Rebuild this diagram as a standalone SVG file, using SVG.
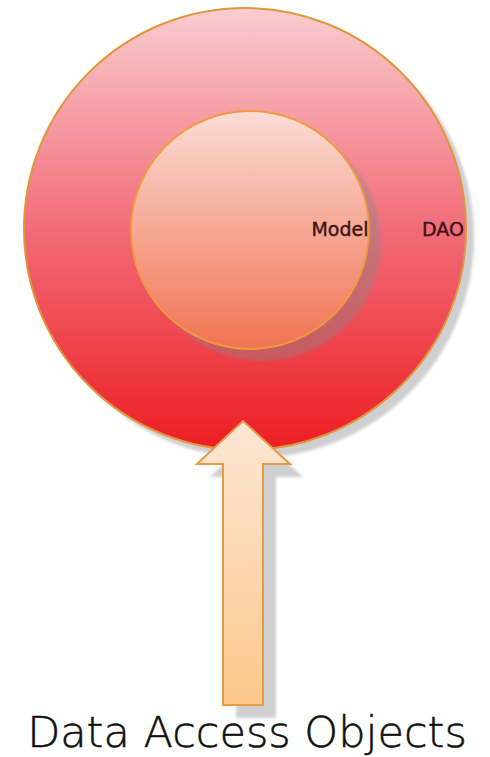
<svg xmlns="http://www.w3.org/2000/svg" width="490" height="757" viewBox="0 0 490 757">
<defs>
<linearGradient id="gOuter" x1="0" y1="0" x2="0" y2="1">
<stop offset="0" stop-color="#f9cdd0"/>
<stop offset="0.5" stop-color="#f26c78"/>
<stop offset="1" stop-color="#ec1e22"/>
</linearGradient>
<linearGradient id="gInner" x1="0" y1="0" x2="0" y2="1">
<stop offset="0" stop-color="#fbdcd6"/>
<stop offset="1" stop-color="#f07452"/>
</linearGradient>
<linearGradient id="gArrow" x1="0" y1="0" x2="0" y2="1">
<stop offset="0" stop-color="#fde6d6"/>
<stop offset="1" stop-color="#fbc88a"/>
</linearGradient>
<filter id="blur" x="-10%" y="-10%" width="120%" height="120%"><feGaussianBlur stdDeviation="1.5"/></filter>
</defs>
<style>
.shadow{fill:#888;opacity:0.4;filter:url(#blur)}
.lbl{font-family:"DejaVu Sans",Verdana,sans-serif;font-size:19px;fill:#3a1414;stroke:#3a1414;stroke-width:0.4;text-anchor:middle}
.title{font-family:"DejaVu Sans",Verdana,sans-serif;font-size:43px;fill:#111;text-anchor:middle;font-weight:300;stroke:#111;stroke-width:0.5}
</style>
<g id="dao">
<circle class="shadow" cx="253" cy="237" r="221"/>
<circle cx="245" cy="229" r="221" fill="url(#gOuter)" stroke="#e0963c" stroke-width="2"/>
<text class="lbl" x="443" y="236">DAO</text>
</g>
<g id="model">
<circle class="shadow" cx="262" cy="242" r="119"/>
<circle cx="250" cy="230" r="119" fill="url(#gInner)" stroke="#f29a3a" stroke-width="2"/>
<text class="lbl" x="340" y="236">Model</text>
</g>
<g id="connectors">
<polygon class="shadow" points="256,434 303,477 276,477 276,718 236,718 236,477 210,477"/>
<polygon points="243,421 290,464 263,464 263,705 223,705 223,464 197,464" fill="url(#gArrow)" stroke="#e59a48" stroke-width="2" stroke-linejoin="miter"/>
</g>
<g id="title">
<text class="title" x="247" y="747">Data Access Objects</text>
</g>
</svg>
